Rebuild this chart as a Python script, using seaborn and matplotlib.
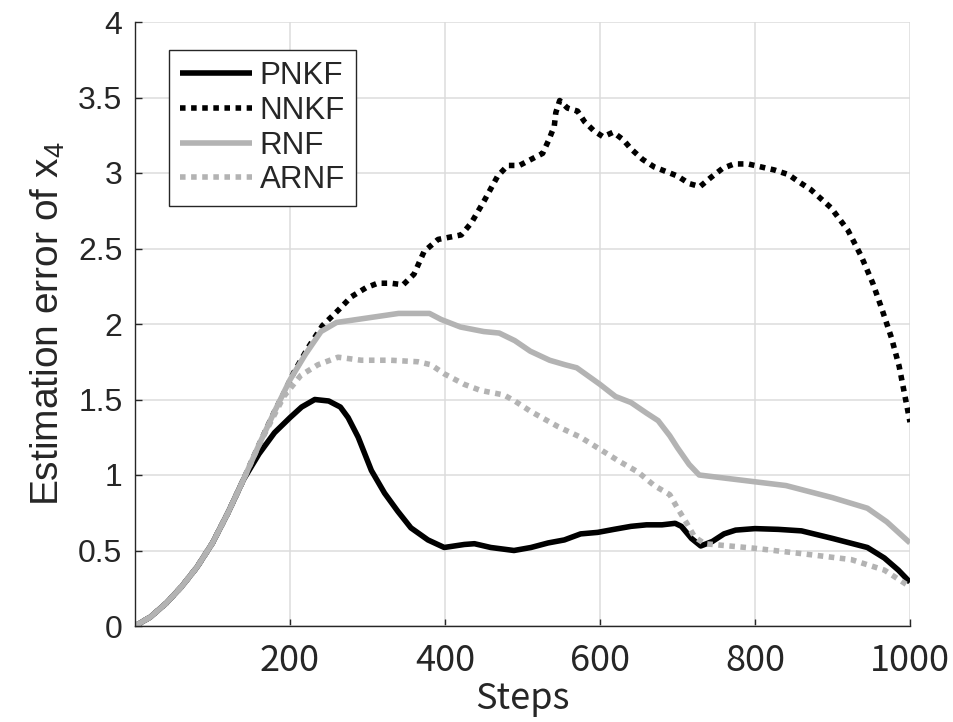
import numpy as np
import pandas as pd
import matplotlib
matplotlib.use("Agg")
import matplotlib.pyplot as plt
import seaborn as sns

# ---------------- data ----------------
common_steps = [0, 20, 40, 60, 80, 100, 120, 140]
common_err = [0.0, 0.06, 0.15, 0.26, 0.39, 0.55, 0.75, 0.97]

pnkf_steps = [160, 180, 200, 215, 232, 250, 265, 275, 288, 305, 322, 339, 356, 378,
              399, 425, 438, 459, 489, 511, 533, 554, 575, 597, 618, 640, 660, 680,
              697, 705, 718, 730, 745, 760, 775, 800, 830, 860, 900, 945, 967, 985, 1000]
pnkf_err = [1.14, 1.28, 1.38, 1.45, 1.50, 1.49, 1.45, 1.38, 1.25, 1.03, 0.88, 0.76, 0.65, 0.57,
            0.52, 0.54, 0.545, 0.52, 0.50, 0.52, 0.55, 0.57, 0.61, 0.62, 0.64, 0.66, 0.67, 0.67,
            0.68, 0.66, 0.58, 0.53, 0.56, 0.61, 0.635, 0.645, 0.64, 0.63, 0.58, 0.52, 0.45, 0.37, 0.29]

nnkf_steps = [160, 180, 192, 205, 223, 242, 262, 279, 298, 313, 330, 346, 360, 373, 391,
              421, 434, 451, 468, 481, 496, 511, 526, 534, 541, 543, 548, 558, 571, 580,
              592, 604, 617, 630, 640, 655, 670, 685, 700, 715, 729, 743, 758, 773, 791,
              808, 825, 843, 857, 872, 898, 920, 937, 952, 963, 976, 986, 997, 1000]
nnkf_err = [1.20, 1.42, 1.54, 1.68, 1.84, 1.99, 2.09, 2.18, 2.24, 2.27, 2.27, 2.26, 2.33, 2.48, 2.56,
            2.59, 2.67, 2.82, 2.98, 3.05, 3.05, 3.09, 3.13, 3.22, 3.31, 3.40, 3.48, 3.43, 3.41, 3.34,
            3.28, 3.24, 3.27, 3.22, 3.16, 3.09, 3.04, 3.01, 2.98, 2.93, 2.91, 2.97, 3.03, 3.06, 3.06,
            3.04, 3.02, 2.99, 2.94, 2.89, 2.77, 2.62, 2.45, 2.27, 2.11, 1.91, 1.72, 1.43, 1.35]

rnf_steps = [160, 180, 200, 220, 240, 260, 300, 340, 380, 395, 420, 450, 470, 490, 510,
             535, 555, 570, 600, 620, 640, 660, 675, 690, 700, 715, 728, 760, 800, 840,
             870, 900, 945, 970, 1000]
rnf_err = [1.20, 1.42, 1.63, 1.80, 1.95, 2.01, 2.04, 2.07, 2.07, 2.03, 1.98, 1.95, 1.94, 1.89, 1.82,
           1.76, 1.73, 1.71, 1.60, 1.52, 1.48, 1.41, 1.36, 1.26, 1.18, 1.07, 1.00, 0.98, 0.955, 0.93,
           0.89, 0.85, 0.78, 0.69, 0.55]

arnf_steps = [160, 180, 192, 214, 236, 262, 292, 330, 365, 382, 399, 425, 446, 476, 490,
              511, 546, 575, 600, 625, 649, 670, 690, 700, 712, 722, 735, 799, 859, 924,
              967, 1000]
arnf_err = [1.20, 1.40, 1.52, 1.66, 1.73, 1.78, 1.76, 1.76, 1.75, 1.73, 1.67, 1.60, 1.56, 1.53, 1.49,
            1.42, 1.32, 1.25, 1.17, 1.09, 1.02, 0.93, 0.87, 0.78, 0.68, 0.59, 0.545, 0.515, 0.48, 0.44,
            0.37, 0.26]

methods = ["PNKF", "NNKF", "RNF", "ARNF"]
x_ticks = [200, 400, 600, 800, 1000]
y_ticks = [0, 0.5, 1, 1.5, 2, 2.5, 3, 3.5, 4]
y_tick_labels = ["0", "0.5", "1", "1.5", "2", "2.5", "3", "3.5", "4"]

series = {
    "PNKF": (pnkf_steps, pnkf_err),
    "NNKF": (nnkf_steps, nnkf_err),
    "RNF": (rnf_steps, rnf_err),
    "ARNF": (arnf_steps, arnf_err),
}
frames = []
for m in methods:
    s, e = series[m]
    frames.append(pd.DataFrame({"Steps": common_steps + list(s),
                                "Error": common_err + list(e),
                                "Method": m}))
df = pd.concat(frames, ignore_index=True)

# ---------------- style ----------------
sns.set_theme(style="ticks")
plt.rcParams["font.family"] = ["Liberation Sans", "DejaVu Sans"]
plt.rcParams["mathtext.fontset"] = "custom"
plt.rcParams["mathtext.rm"] = "Liberation Sans"
plt.rcParams["mathtext.it"] = "Liberation Sans"

colors = {"PNKF": "#000000", "NNKF": "#000000", "RNF": "#b3b3b3", "ARNF": "#b3b3b3"}
styles = {"PNKF": "-", "NNKF": (0, (1, 1)), "RNF": "-", "ARNF": (0, (1, 1))}

fig = plt.figure(figsize=(9.54, 7.22), dpi=100)
ax = fig.add_axes([135 / 954, 1 - 626 / 722, (910 - 135) / 954, (626 - 22) / 722])

for m in methods:
    sns.lineplot(data=df[df["Method"] == m], x="Steps", y="Error", ax=ax,
                 color=colors[m], linestyle=styles[m], linewidth=4.0,
                 label=m, errorbar=None, estimator=None, sort=False,
                 solid_capstyle="butt", dash_capstyle="butt")

ax.set_xlim(0, 1000)
ax.set_ylim(0, 4)
ax.set_xticks(x_ticks)
ax.set_yticks(y_ticks)
ax.set_yticklabels(y_tick_labels)
ax.grid(True, color="#dcdcdc", linewidth=1.1)
ax.set_axisbelow(True)

for sp in ["top", "right"]:
    ax.spines[sp].set_visible(False)
for sp in ["left", "bottom"]:
    ax.spines[sp].set_color("#262626")
    ax.spines[sp].set_linewidth(1.0)

ax.tick_params(axis="both", direction="in", length=5, width=1.0, color="#262626")
ax.tick_params(axis="y", labelsize=23, pad=9, labelcolor="#262626")
ax.tick_params(axis="x", labelsize=26, pad=12, labelcolor="#262626")
for lab in ax.get_xticklabels():
    lab.set_family(["Noto Sans CJK JP", "DejaVu Sans"])

ax.set_xlabel("Steps", fontsize=26, family=["Noto Sans CJK JP", "DejaVu Sans"],
              color="#262626", labelpad=2)
ax.set_ylabel("Estimation error of x$_{\\mathregular{4}}$", fontsize=28,
              color="#262626", labelpad=8)

leg = ax.legend(loc="upper left", bbox_to_anchor=(0.044, 0.953), fontsize=22.5,
                frameon=True, fancybox=False, framealpha=1, edgecolor="#262626",
                handlelength=2.3, handletextpad=0.25, labelspacing=0.15,
                borderpad=0.35, borderaxespad=0.0)
leg.get_frame().set_linewidth(1.0)
for t in leg.get_texts():
    t.set_color("#262626")

fig.savefig("out.png", dpi=100)
